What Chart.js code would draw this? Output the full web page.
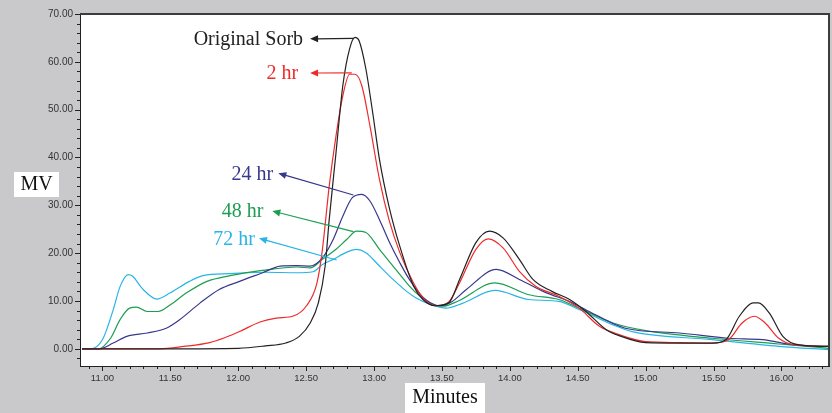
<!DOCTYPE html>
<html>
<head>
<meta charset="utf-8">
<script src="https://cdn.jsdelivr.net/npm/chart.js@4"></script>
<style>
  html, body { margin: 0; padding: 0; background: #c9c9cb; }
</style>
</head>
<body>
<canvas id="chart" width="832" height="413"></canvas>
<script>
/* chromatogram: sorbitol degradation over time */

// Original Sorb
const sorbT = [10.85, 11.0, 11.5, 12.0, 12.2, 12.35, 12.45, 12.53, 12.59, 12.64, 12.67, 12.72, 12.77, 12.82, 12.86, 12.89, 12.94, 12.99, 13.04, 13.11, 13.19, 13.29, 13.36, 13.45, 13.55, 13.63, 13.75, 13.85, 13.95, 14.07, 14.17, 14.31, 14.44, 14.56, 14.71, 14.81, 15.0, 15.25, 15.49, 15.59, 15.69, 15.79, 15.83, 15.91, 16.01, 16.13, 16.35];
const sorbMV = [0, 0, 0, 0.1, 0.6, 1.2, 2.6, 5.4, 9.6, 17.3, 27.0, 41.0, 55.0, 62.7, 65.1, 64.4, 58.5, 49.4, 39.6, 29.8, 21.4, 13.2, 10.3, 9.0, 9.6, 14.5, 22.2, 24.6, 23.2, 18.7, 14.5, 12.0, 10.3, 7.8, 4.0, 2.7, 1.3, 1.2, 1.2, 1.9, 6.8, 9.6, 9.6, 7.5, 2.6, 0.8, 0.5];

// 2 hr
const hr2T = [10.85, 11.42, 11.6, 11.79, 11.9, 12.01, 12.16, 12.28, 12.41, 12.5, 12.58, 12.62, 12.67, 12.72, 12.77, 12.82, 12.86, 12.91, 12.97, 13.04, 13.11, 13.19, 13.29, 13.37, 13.46, 13.55, 13.63, 13.75, 13.84, 13.95, 14.07, 14.19, 14.36, 14.51, 14.66, 14.81, 15.0, 15.25, 15.49, 15.61, 15.71, 15.8, 15.88, 15.98, 16.1, 16.35];
const hr2MV = [0, 0, 0.5, 1.3, 2.3, 3.6, 5.6, 6.4, 6.9, 8.9, 13.8, 20.8, 34.0, 44.5, 52.9, 57.4, 57.4, 55.0, 46.6, 35.4, 27.0, 20.1, 13.8, 10.3, 9.0, 9.8, 13.8, 20.8, 23.0, 21.1, 16.2, 13.1, 11.0, 8.5, 4.7, 2.9, 1.5, 1.3, 1.2, 1.9, 5.4, 6.8, 5.4, 2.2, 0.8, 0.5];

// 24 hr
const hr24T = [10.85, 10.98, 11.08, 11.18, 11.33, 11.47, 11.57, 11.72, 11.86, 12.01, 12.18, 12.31, 12.43, 12.53, 12.62, 12.70, 12.77, 12.84, 12.91, 12.97, 13.04, 13.11, 13.19, 13.26, 13.36, 13.48, 13.57, 13.68, 13.9, 14.07, 14.27, 14.44, 14.63, 14.85, 15.25, 15.61, 15.86, 16.1, 16.35];
const hr24MV = [0, 0, 1.2, 2.6, 3.3, 4.3, 6.1, 9.6, 12.4, 14.1, 15.9, 17.3, 17.4, 17.3, 19.0, 22.9, 27.7, 31.6, 32.3, 30.9, 27.0, 22.5, 18.0, 14.5, 10.8, 9.0, 9.8, 12.4, 16.6, 14.5, 11.7, 9.9, 7.1, 4.3, 3.3, 2.2, 1.9, 0.8, 0.5];

// 48 hr
const hr48T = [10.85, 10.97, 11.06, 11.13, 11.2, 11.25, 11.33, 11.41, 11.5, 11.62, 11.77, 11.94, 12.18, 12.43, 12.53, 12.62, 12.72, 12.8, 12.87, 12.94, 13.04, 13.14, 13.24, 13.31, 13.4, 13.51, 13.62, 13.89, 14.14, 14.36, 14.51, 14.76, 15.0, 15.49, 15.98, 16.35];
const hr48MV = [0, 0, 2.2, 6.1, 8.5, 8.7, 7.8, 7.8, 9.2, 11.7, 14.1, 15.3, 16.4, 17.1, 16.9, 18.7, 20.8, 22.9, 24.6, 24.3, 20.8, 17.3, 13.8, 11.7, 9.8, 8.9, 10.0, 13.8, 11.3, 10.3, 8.5, 5.4, 3.8, 2.2, 1.0, 0.1];

// 72 hr
const hr72T = [10.85, 10.91, 11.0, 11.08, 11.13, 11.19, 11.22, 11.3, 11.4, 11.5, 11.64, 11.74, 11.94, 12.21, 12.43, 12.55, 12.62, 12.70, 12.80, 12.87, 12.94, 13.04, 13.14, 13.24, 13.31, 13.42, 13.53, 13.65, 13.89, 14.14, 14.36, 14.51, 14.76, 14.9, 15.49, 15.98, 16.35];
const hr72MV = [0, 0, 1.9, 8.2, 13.0, 15.5, 15.2, 12.4, 10.4, 11.7, 14.1, 15.3, 15.7, 16.0, 15.9, 16.1, 17.6, 18.7, 20.2, 20.8, 20.1, 17.3, 14.5, 12.0, 10.6, 9.2, 8.5, 9.5, 12.2, 10.3, 9.9, 8.2, 5.0, 3.6, 1.9, 0.5, -0.2];

const xMajor = [11, 11.5, 12, 12.5, 13, 13.5, 14, 14.5, 15, 15.5, 16];
const yMajor = [0, 10, 20, 30, 40, 50, 60, 70];

const COLORS = { sorb: "#222222", hr2: "#ee2b2b", hr24: "#37378f", hr48: "#1c9e50", hr72: "#28b4e6" };

// callouts: text, arrow head end (near text), arrow tail end (on the curve), in minutes / MV
const notes = [
  { text: "Original Sorb", color: COLORS.sorb, head: [12.529, 64.8], tail: [12.85, 64.9], gap: 7 },
  { text: "2 hr", color: COLORS.hr2, head: [12.529, 57.66], tail: [12.836, 57.7], gap: 12 },
  { text: "24 hr", color: COLORS.hr24, head: [12.295, 36.7], tail: [12.848, 32.15], gap: 5 },
  { text: "48 hr", color: COLORS.hr48, head: [12.251, 28.8], tail: [12.848, 24.5], gap: 9 },
  { text: "72 hr", color: COLORS.hr72, head: [12.153, 23.1], tail: [12.725, 18.56], gap: 4 },
];

const SERIF = '"Liberation Serif", "Times New Roman", serif';
const SANS = '"Liberation Sans", Arial, sans-serif';

function series(label, t, v, color, order) {
  return {
    label, order, borderColor: color, borderWidth: 1.2,
    data: t.map((x, i) => ({ x, y: v[i] })),
    pointRadius: 0, fill: false, cubicInterpolationMode: "monotone",
  };
}

const frame = {
  id: "frame",
  beforeDraw(chart) {
    const { ctx, chartArea: a } = chart;
    ctx.save();
    ctx.fillStyle = "#c9c9cb";
    ctx.fillRect(0, 0, chart.width, chart.height);
    ctx.fillStyle = "#fff";
    ctx.fillRect(a.left, a.top, a.right - a.left, a.bottom - a.top);
    ctx.restore();
  },
  afterDraw(chart) {
    const { ctx, chartArea: a, scales: { x, y } } = chart;
    ctx.save();
    // top and right border
    ctx.strokeStyle = "#3c3c3c";
    ctx.lineWidth = 2;
    ctx.beginPath();
    ctx.moveTo(a.left, a.top);
    ctx.lineTo(a.right, a.top);
    ctx.lineTo(a.right, a.bottom);
    ctx.stroke();
    // tick marks, minor and major
    ctx.strokeStyle = "#222";
    ctx.lineWidth = 1;
    ctx.beginPath();
    for (let i = 109; i <= 163; i++) {
      const px = Math.round(x.getPixelForValue(i / 10)) + 0.5;
      ctx.moveTo(px, a.bottom);
      ctx.lineTo(px, a.bottom + (i % 5 === 0 ? 5 : 3));
    }
    for (let v = -2; v <= 70; v += 2) {
      const py = Math.round(y.getPixelForValue(v)) + 0.5;
      ctx.moveTo(a.left, py);
      ctx.lineTo(a.left - (v % 10 === 0 ? 5 : 3), py);
    }
    ctx.stroke();
    // axis titles in white boxes
    ctx.fillStyle = "#fff";
    ctx.fillRect(14, 172, 45, 25);
    ctx.fillRect(405, 383, 80, 30);
    ctx.fillStyle = "#111";
    ctx.font = `20px ${SERIF}`;
    ctx.textAlign = "center";
    ctx.textBaseline = "middle";
    ctx.fillText("MV", 36.5, 185);
    ctx.fillText("Minutes", 445, 398);
    ctx.restore();
  },
  afterDatasetsDraw(chart) {
    const { ctx, scales: { x, y } } = chart;
    ctx.save();
    ctx.font = `20px ${SERIF}`;
    ctx.textAlign = "right";
    ctx.textBaseline = "middle";
    for (const n of notes) {
      const hx = x.getPixelForValue(n.head[0]), hy = y.getPixelForValue(n.head[1]);
      const tx = x.getPixelForValue(n.tail[0]), ty = y.getPixelForValue(n.tail[1]);
      const ang = Math.atan2(hy - ty, hx - tx);
      ctx.strokeStyle = n.color;
      ctx.fillStyle = n.color;
      ctx.lineWidth = 1.2;
      ctx.beginPath();
      ctx.moveTo(tx, ty);
      ctx.lineTo(hx - 6 * Math.cos(ang), hy - 6 * Math.sin(ang));
      ctx.stroke();
      ctx.beginPath();
      ctx.moveTo(hx, hy);
      ctx.lineTo(hx - 8 * Math.cos(ang) + 3.5 * Math.sin(ang), hy - 8 * Math.sin(ang) - 3.5 * Math.cos(ang));
      ctx.lineTo(hx - 8 * Math.cos(ang) - 3.5 * Math.sin(ang), hy - 8 * Math.sin(ang) + 3.5 * Math.cos(ang));
      ctx.closePath();
      ctx.fill();
      ctx.fillText(n.text, hx - n.gap, hy + 1);
    }
    ctx.restore();
  },
};

new Chart(document.getElementById("chart"), {
  type: "line",
  data: {
    datasets: [
      series("Original Sorb", sorbT, sorbMV, COLORS.sorb, 0),
      series("2 hr", hr2T, hr2MV, COLORS.hr2, 1),
      series("24 hr", hr24T, hr24MV, COLORS.hr24, 2),
      series("48 hr", hr48T, hr48MV, COLORS.hr48, 3),
      series("72 hr", hr72T, hr72MV, COLORS.hr72, 4),
    ],
  },
  options: {
    responsive: false,
    animation: false,
    layout: { padding: { top: 14, right: 3, left: 0, bottom: 0 } },
    plugins: { legend: { display: false }, tooltip: { enabled: false } },
    scales: {
      x: {
        type: "linear", min: 10.835, max: 16.35,
        grid: { display: false, drawTicks: false },
        border: { display: true, color: "#222", width: 1 },
        afterBuildTicks: (s) => { s.ticks = xMajor.map((value) => ({ value })); },
        afterFit: (s) => { s.height = 47; },
        ticks: { autoSkip: false, maxRotation: 0, padding: 7, color: "#333",
          font: { family: SANS, size: 9.5 }, callback: (v) => Number(v).toFixed(2) },
      },
      y: {
        type: "linear", min: -3.6, max: 70,
        grid: { display: false, drawTicks: false },
        border: { display: true, color: "#222", width: 1 },
        afterBuildTicks: (s) => { s.ticks = yMajor.map((value) => ({ value })); },
        afterFit: (s) => { s.width = 80; },
        ticks: { autoSkip: false, padding: 7, color: "#333",
          font: { family: SANS, size: 10 }, callback: (v) => Number(v).toFixed(2) },
      },
    },
  },
  plugins: [frame],
});
</script>
</body>
</html>
